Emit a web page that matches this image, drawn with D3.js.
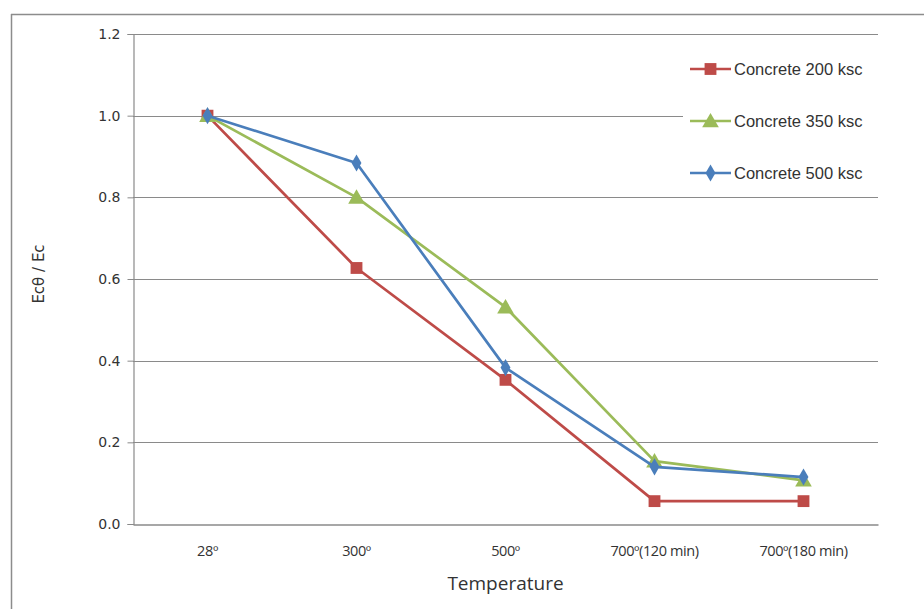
<!DOCTYPE html>
<html>
<head>
<meta charset="utf-8">
<script src="https://cdn.jsdelivr.net/npm/d3@7"></script>
<style>
  html, body { margin: 0; padding: 0; background: #fff; }
  svg { display: block; }
</style>
</head>
<body>
<svg id="chart" width="924" height="609"></svg>
<script>
// Elastic modulus ratio Ecθ/Ec after exposure to high temperature
const categories = ["28º", "300º", "500º", "700º(120 min)", "700º(180 min)"];
const yTicks = [0.0, 0.2, 0.4, 0.6, 0.8, 1.0, 1.2];
const seriesNames = ["Concrete 200 ksc", "Concrete 350 ksc", "Concrete 500 ksc"];
const concrete200 = [1.0, 0.627, 0.353, 0.056, 0.056];
const concrete350 = [1.0, 0.80, 0.531, 0.154, 0.107];
const concrete500 = [1.0, 0.884, 0.383, 0.140, 0.115];
const seriesColors = ["#BE4B48", "#9BBB59", "#4A7EBB"];
const markerTypes = [d3.symbolSquare, d3.symbolTriangle, d3.symbolDiamond];

const series = seriesNames.map((name, i) => ({
  name,
  values: [concrete200, concrete350, concrete500][i],
  color: seriesColors[i],
  symbol: markerTypes[i]
}));

const svg = d3.select("#chart");
const plot = { left: 133, right: 878, top: 34, bottom: 524 };

// chart frame
svg.append("line").attr("x1", 11).attr("x2", 924).attr("y1", 14.5).attr("y2", 14.5)
  .attr("stroke", "#8c8c8c").attr("stroke-width", 1.5);
svg.append("line").attr("x1", 11.5).attr("x2", 11.5).attr("y1", 14).attr("y2", 609)
  .attr("stroke", "#8c8c8c").attr("stroke-width", 1.5);

const x = d3.scaleBand().domain(categories).range([plot.left, plot.right]);
const y = d3.scaleLinear().domain([0, 1.2]).range([plot.bottom, plot.top]);

// horizontal gridlines
svg.append("g")
  .selectAll("line")
  .data(yTicks.filter(t => t > 0))
  .join("line")
  .attr("x1", plot.left).attr("x2", plot.right)
  .attr("y1", d => Math.round(y(d)) + 0.5).attr("y2", d => Math.round(y(d)) + 0.5)
  .attr("stroke", "#8a8a8a").attr("stroke-width", 1.2);

// y axis
const yAxis = svg.append("g")
  .attr("transform", `translate(${plot.left + 0.5},0)`)
  .call(d3.axisLeft(y).tickValues(yTicks).tickFormat(d3.format(".1f")).tickSize(6).tickPadding(7));
yAxis.select(".domain").attr("stroke", "#8a8a8a").attr("stroke-width", 1.2);
yAxis.selectAll(".tick line").attr("stroke", "#8a8a8a");
yAxis.selectAll(".tick text")
  .attr("fill", "#333").attr("font-family", "DejaVu Sans, sans-serif").attr("font-size", 14);

// x axis
const xAxis = svg.append("g")
  .attr("transform", `translate(0,${plot.bottom + 0.5})`)
  .call(d3.axisBottom(x).tickSize(0).tickPadding(21));
xAxis.select(".domain").attr("stroke", "#8a8a8a").attr("stroke-width", 1.5);
xAxis.selectAll(".tick text")
  .attr("fill", "#333").attr("font-family", "Open Sans, sans-serif").attr("font-size", 14.5)
  .attr("letter-spacing", "-0.4px");

// axis titles
svg.append("text")
  .attr("x", x("500º") + x.bandwidth() / 2).attr("y", 590)
  .attr("text-anchor", "middle")
  .attr("font-family", "Open Sans, sans-serif").attr("font-size", 19)
  .attr("fill", "#333").text("Temperature");
svg.append("text")
  .attr("transform", `translate(44,274) rotate(-90)`)
  .attr("text-anchor", "middle")
  .attr("font-family", "DejaVu Sans, sans-serif").attr("font-size", 15)
  .attr("fill", "#333").text("Ecθ / Ec");

// legend background covers part of the gridlines
const legend = svg.append("g");
legend.append("rect").attr("x", 683).attr("y", 44).attr("width", 195).attr("height", 150)
  .attr("fill", "#fff");

// series lines and markers
const line = d3.line()
  .x((d, i) => x(categories[i]) + x.bandwidth() / 2)
  .y(d => y(d));

const markerSize = [140, 120, 85];
series.forEach((s, k) => {
  const g = svg.append("g");
  g.append("path").datum(s.values)
    .attr("d", line).attr("fill", "none")
    .attr("stroke", s.color).attr("stroke-width", 2.7).attr("stroke-linejoin", "round");
  g.selectAll("path.m").data(s.values).join("path")
    .attr("class", "m")
    .attr("transform", (d, i) => `translate(${x(categories[i]) + x.bandwidth() / 2},${y(d) + (k === 1 ? 1.5 : 0)})`)
    .attr("d", d3.symbol().type(s.symbol).size(markerSize[k]))
    .attr("fill", s.color);
});

// legend entries
const legendY = [69, 121, 173];
series.forEach((s, k) => {
  const g = legend.append("g").attr("transform", `translate(0,${legendY[k]})`);
  g.append("line").attr("x1", 690).attr("x2", 731).attr("y1", 0).attr("y2", 0)
    .attr("stroke", s.color).attr("stroke-width", 2.7);
  g.append("path").attr("transform", `translate(710.5,${k === 1 ? 1.5 : 0})`)
    .attr("d", d3.symbol().type(s.symbol).size(markerSize[k])).attr("fill", s.color);
  g.append("text").attr("x", 734).attr("y", 5.5)
    .attr("font-family", "Liberation Sans, Arial, sans-serif").attr("font-size", 16.5)
    .attr("fill", "#333").text(s.name);
});
</script>
</body>
</html>
